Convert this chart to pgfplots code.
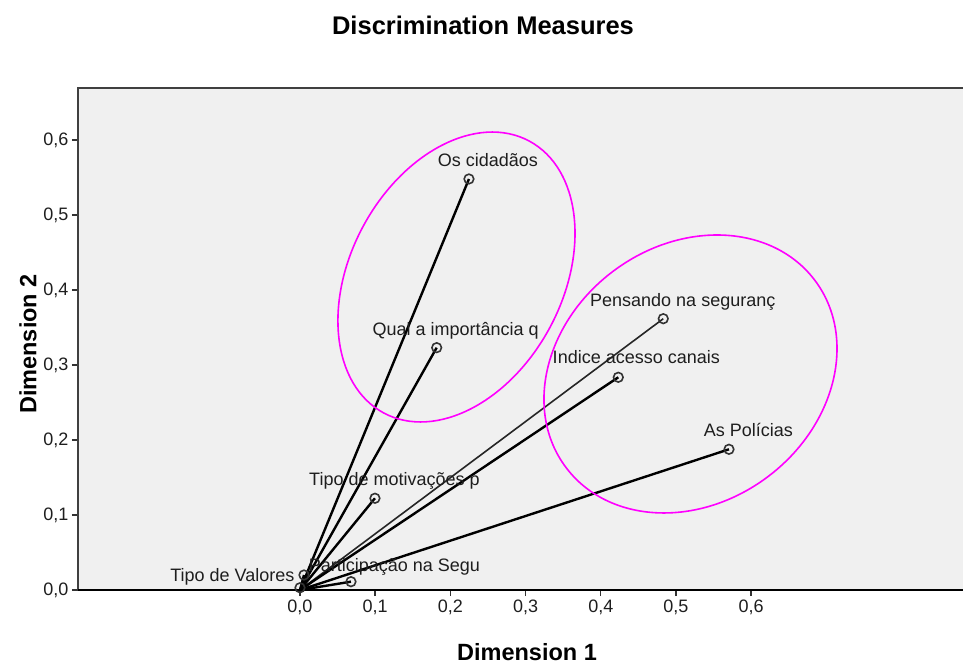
\documentclass[border=0pt]{standalone}
\usepackage{fontspec}
\setmainfont{Liberation Sans}
\usepackage{pgfplots}
\pgfplotsset{compat=1.18}
\usetikzlibrary{shapes.geometric}
\definecolor{mag}{RGB}{255,0,255}
\definecolor{bg}{RGB}{240,240,240}
\definecolor{txt}{RGB}{30,30,30}
\newcommand{\lblfont}{\fontsize{18}{20}\selectfont}
\begin{document}
\begin{tikzpicture}[x=1pt,y=1pt]
\useasboundingbox (-78,-74) rectangle (885,590);
\begin{axis}[
  at={(0,0)}, anchor=south west,
  scale only axis, width=885pt, height=502pt,
  xmin=-0.2952, xmax=0.8817, ymin=0, ymax=0.6693,
  axis background/.style={fill=bg},
  axis line style={draw=none},
  xtick={0,0.1,0.2,0.3,0.4,0.5,0.6},
  ytick={0,0.1,0.2,0.3,0.4,0.5,0.6},
  xtick pos=bottom, ytick pos=left,
  tick align=outside, major tick length=6pt,
  tick style={black!80, line width=1.4pt},
  ticklabel style={font=\lblfont, text=txt},
  /pgf/number format/fixed,
  /pgf/number format/fixed zerofill,
  /pgf/number format/precision=1,
  /pgf/number format/use comma,
  /pgf/number format/assume math mode=true,
  clip=false,
  every axis plot/.append style={mark=o, mark size=4.8pt, mark indices={2},
     mark options={line width=1.6pt, draw=black!80, solid}},
]
\addplot[black, line width=2.4pt] coordinates {(0,0) (0.2247,0.548)}
  node[pos=1, anchor=base, xshift=19pt, yshift=12.5pt, font=\lblfont, text=txt] {Os cidadãos};
\addplot[black, line width=2.4pt] coordinates {(0,0) (0.1818,0.3231)}
  node[pos=1, anchor=base, xshift=19pt, yshift=12.5pt, font=\lblfont, text=txt] {Qual a importância q};
\addplot[black!85, line width=1.6pt] coordinates {(0,0) (0.4831,0.3617)}
  node[pos=1, anchor=base, xshift=19.5pt, yshift=12.5pt, font=\lblfont, text=txt] {Pensando na seguranç};
\addplot[black, line width=2.4pt] coordinates {(0,0) (0.4233,0.2836)}
  node[pos=1, anchor=base, xshift=18pt, yshift=13.5pt, font=\lblfont, text=txt] {Indice acesso canais};
\addplot[black, line width=2.4pt] coordinates {(0,0) (0.5705,0.1876)}
  node[pos=1, anchor=base, xshift=19.5pt, yshift=13pt, font=\lblfont, text=txt] {As Polícias};
\addplot[black, line width=2.4pt] coordinates {(0,0) (0.0997,0.1223)}
  node[pos=1, anchor=base, xshift=19.5pt, yshift=13pt, font=\lblfont, text=txt] {Tipo de motivações p};
\addplot[black, line width=2.4pt] coordinates {(0,0) (0.0678,0.0111)}
  node[pos=1, anchor=base, xshift=43.5pt, yshift=10.5pt, font=\lblfont, text=txt] {Participação na Segu};
\addplot[black, line width=2.4pt] coordinates {(0,0) (0.0053,0.020)}
  node[pos=1, anchor=base east, xshift=-5pt, yshift=-6pt, font=\lblfont, text=txt] {Tipo de Valores};
\addplot[black, line width=2.4pt] coordinates {(0,0) (0.0,0.003)};
\node[draw=mag, line width=1.6pt, ellipse, minimum width=308.4pt, minimum height=212.4pt,
  inner sep=0pt, outer sep=0pt, rotate=61.9] at (axis cs:0.2081,0.4173) {};
\node[draw=mag, line width=1.6pt, ellipse, minimum width=311.4pt, minimum height=257.2pt,
  inner sep=0pt, outer sep=0pt, rotate=36.9] at (axis cs:0.5193,0.288) {};
\draw[black!75, line width=1.6pt] (rel axis cs:0,0) -- (rel axis cs:0,1) -- (rel axis cs:1,1);
\draw[black, line width=1.6pt] (rel axis cs:0,0) -- (rel axis cs:1,0);
\end{axis}
\node[font=\bfseries\fontsize{25.5}{28}\selectfont] at (405,565) {Discrimination Measures};
\node[font=\bfseries\fontsize{23.5}{26}\selectfont] at (449,-62) {Dimension 1};
\node[font=\bfseries\fontsize{23.5}{26}\selectfont, rotate=90] at (-50,246) {Dimension 2};
\end{tikzpicture}
\end{document}
